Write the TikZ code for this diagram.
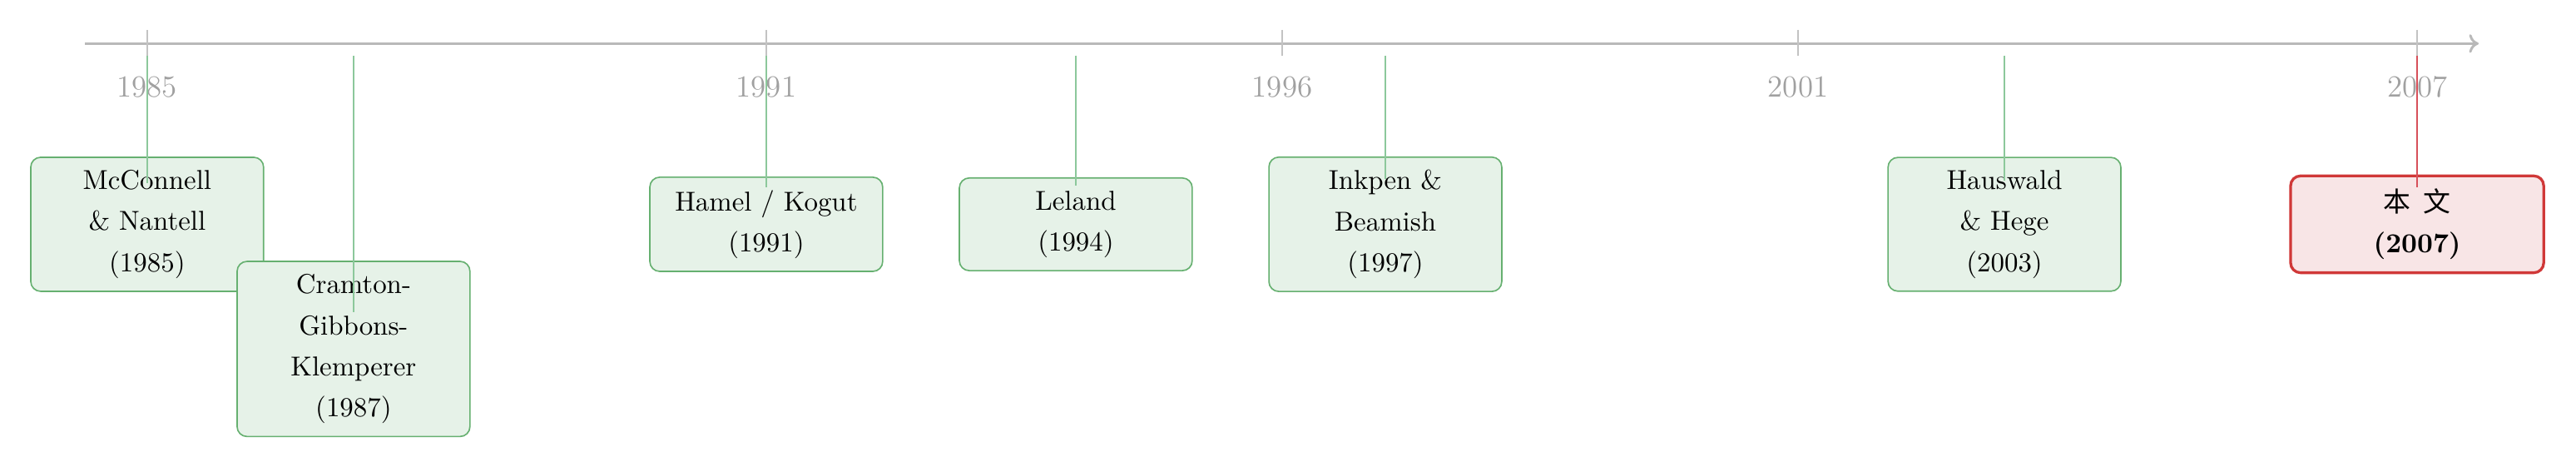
\documentclass[tikz,border=0pt]{standalone}
\usepackage{fontspec}
\newfontfamily\cjk{Noto Sans CJK SC}
\usetikzlibrary{arrows.meta}

\definecolor{axisgray}{RGB}{185,185,185}
\definecolor{tickgray}{RGB}{195,195,195}
\definecolor{yeargray}{RGB}{160,160,160}
\definecolor{linegreen}{RGB}{140,200,155}
\definecolor{boxgreen}{RGB}{102,176,112}
\definecolor{fillgreen}{RGB}{230,242,232}
\definecolor{boxred}{RGB}{208,56,56}
\definecolor{fillred}{RGB}{248,229,230}
\definecolor{linered}{RGB}{215,80,90}

\tikzset{
    axisline/.style={axisgray, line width=0.9pt},
    tickline/.style={tickgray, line width=0.4pt},
    yearlabel/.style={text=yeargray, inner sep=0pt, font=\fontsize{11.2}{13}\selectfont},
    event/.style={draw=boxgreen, fill=fillgreen, line width=0.5pt, rounded corners=3.6pt,
        align=center, minimum width=2.99cm, inner ysep=4.7pt, font=\fontsize{10}{15}\selectfont},
    ours/.style={event, draw=boxred, fill=fillred, line width=1pt, minimum width=3.25cm},
    evline/.style={linegreen, line width=0.5pt},
    ourline/.style={linered, line width=0.5pt}
}

\begin{document}
\begin{tikzpicture}
    \useasboundingbox (-1.89,0.559) rectangle (31.19,-5.435);
    \draw[axisline, -{Computer Modern Rightarrow[length=3.5pt,width=6.8pt]}] (-0.8,0) -- (29.94,0);
    \draw[tickline] (0,0.175) -- (0,-0.154);
    \draw[tickline] (7.95,0.175) -- (7.95,-0.154);
    \draw[tickline] (14.575,0.175) -- (14.575,-0.154);
    \draw[tickline] (21.2,0.175) -- (21.2,-0.154);
    \draw[tickline] (29.15,0.175) -- (29.15,-0.154);
    \node[yearlabel] (y1985) at (0,-0.56) {1985};
    \node[yearlabel] (y1991) at (7.95,-0.56) {1991};
    \node[yearlabel] (y1996) at (14.575,-0.56) {1996};
    \node[yearlabel] (y2001) at (21.2,-0.56) {2001};
    \node[yearlabel] (y2007) at (29.15,-0.56) {2007};

    \node[event] (mcconnell) at (0,-2.32) {McConnell\\\& Nantell\\(1985)};
    \node[event] (cramton) at (2.65,-3.92) {Cramton-\\Gibbons-\\Klemperer\\(1987)};
    \node[event] (hamel) at (7.95,-2.32) {Hamel / Kogut\\(1991)};
    \node[event] (leland) at (11.925,-2.32) {Leland\\(1994)};
    \node[event] (inkpen) at (15.9,-2.32) {Inkpen \&\\Beamish\\(1997)};
    \node[event] (hauswald) at (23.85,-2.32) {Hauswald\\\& Hege\\(2003)};
    \node[ours] (ours) at (29.15,-2.32) {{\cjk 本\hspace{0.45em}文}\\\textbf{(2007)}};

    \coordinate (e1985) at (0,-0.154);
    \coordinate (e1987) at (2.65,-0.154);
    \coordinate (e1991) at (7.95,-0.154);
    \coordinate (e1994) at (11.925,-0.154);
    \coordinate (e1997) at (15.9,-0.154);
    \coordinate (e2003) at (23.85,-0.154);
    \coordinate (e2007) at (29.15,-0.154);
    \draw[evline] (e1985) -- ([yshift=0.53cm]mcconnell.center);
    \draw[evline] (e1987) -- ([yshift=0.47cm]cramton.center);
    \draw[evline] (e1991) -- ([yshift=0.47cm]hamel.center);
    \draw[evline] (e1994) -- ([yshift=0.5cm]leland.center);
    \draw[evline] (e1997) -- ([yshift=0.58cm]inkpen.center);
    \draw[evline] (e2003) -- ([yshift=0.56cm]hauswald.center);
    \draw[ourline] (e2007) -- ([yshift=0.47cm]ours.center);
\end{tikzpicture}
\end{document}
